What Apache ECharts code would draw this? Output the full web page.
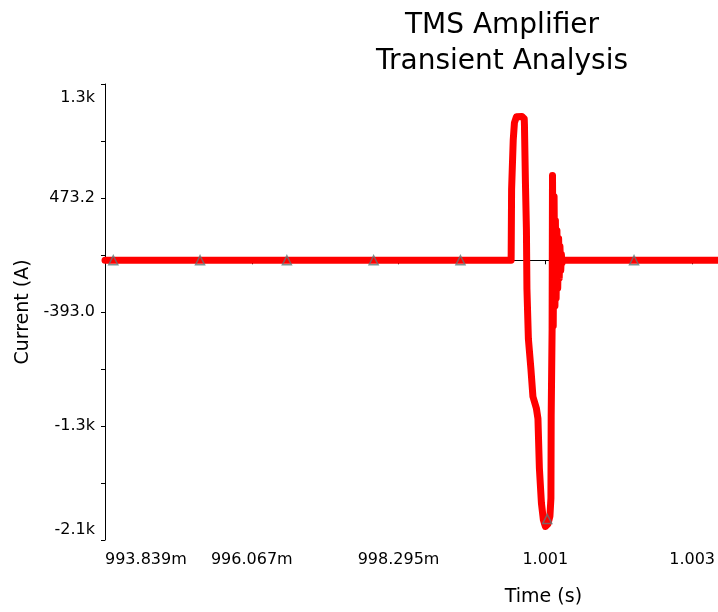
<!DOCTYPE html>
<html>
<head>
<meta charset="utf-8">
<style>
  html, body { margin: 0; padding: 0; background: #ffffff; }
  #chart { width: 718px; height: 612px; }
</style>
<script src="https://cdn.jsdelivr.net/npm/echarts@6/dist/echarts.min.js"></script>
</head>
<body>
<div id="chart"></div>
<script>
// ---- data (time in ms, current in A) ----
const timeMs = [
  993.839, 1000.004, 1000.011, 1000.036, 1000.054, 1000.084, 1000.168, 1000.203,
  1000.206, 1000.221, 1000.236, 1000.244, 1000.266, 1000.304, 1000.335, 1000.388,
  1000.411, 1000.433, 1000.464, 1000.494, 1000.524, 1000.562, 1000.593, 1000.608,
  1000.612, 1000.626, 1000.632, 1000.643, 1000.656, 1000.669, 1000.676, 1000.687,
  1000.699, 1000.711, 1000.725, 1000.734, 1000.745, 1000.757, 1000.767, 1000.775,
  1000.790, 1003.142
];
const currentA = [
  0, 0, 538, 916, 1045, 1090, 1093, 1075,
  1030, 591, 235, -219, -597, -824, -1036, -1127,
  -1203, -1581, -1846, -1974, -2023, -2004, -1944, -1808,
  -1180, -521, 644, -499, 484, -348, 303, -288,
  227, -212, 166, -136, 106, -76, 45, -23,
  0, 0
];
const markerTimeMs = [993.965, 995.282, 996.600, 997.917, 999.235, 1000.552, 1001.870];
const markerCurrentA = [0, 0, 0, 0, 0, -1965, 0];

const xTickValues = [993.839, 996.067, 998.295, 1000.523, 1002.751];
const yTickValues = [-2125.4, -1692.3, -1259.2, -826.1, -393.0, 40.1, 473.2, 906.3, 1339.4];
const yLabelValues = [-2125.4, -1259.2, -393.0, 473.2, 1339.4];
const xMin = 993.839, xMax = 1003.142;
const yMin = -2125.4, yMax = 1339.4;

const FONT = 'DejaVu Sans';

const lineData = timeMs.map((t, i) => [t, currentA[i]]);
const markerData = markerTimeMs.map((t, i) => [t, markerCurrentA[i]]);

function fmtX(v) {
  if (v >= 1000) return (v / 1000).toFixed(3);
  return v.toFixed(3) + 'm';
}
function fmtYPlain(v) {
  if (Math.abs(v) >= 1000) return (v / 1000).toFixed(1) + 'k';
  return v.toFixed(1);
}
function fmtY(v) {
  const s = fmtYPlain(v);
  if (Math.abs(v - yMax) < 1e-6) return '{top|' + s + '}';
  if (Math.abs(v - yMin) < 1e-6) return '{bot|' + s + '}';
  return s;
}

const chart = echarts.init(document.getElementById('chart'), null, { renderer: 'canvas' });
chart.setOption({
  animation: false,
  backgroundColor: '#ffffff',
  title: {
    text: 'TMS Amplifier\nTransient Analysis',
    left: 497,
    top: 3,
    textAlign: 'center',
    textStyle: {
      fontFamily: FONT,
      fontSize: 28,
      fontWeight: 'normal',
      color: '#000000',
      lineHeight: 36
    }
  },
  grid: { left: 105, right: 0, top: 84, bottom: 70, containLabel: false },
  xAxis: {
    type: 'value',
    min: xMin,
    max: xMax,
    name: 'Time (s)',
    nameLocation: 'middle',
    nameGap: 48,
    nameTextStyle: { fontFamily: FONT, fontSize: 19, color: '#000000', padding: [0, 0, 0, 264] },
    axisLine: { show: true, lineStyle: { color: '#000000', width: 1 } },
    axisTick: { show: true, length: 4, customValues: xTickValues, lineStyle: { color: '#000000' } },
    axisLabel: {
      customValues: xTickValues,
      formatter: fmtX,
      showMinLabel: true,
      hideOverlap: false,
      fontFamily: FONT,
      fontSize: 16,
      color: '#000000',
      margin: 12,
      alignMinLabel: 'left'
    },
    splitLine: { show: false }
  },
  yAxis: {
    type: 'value',
    min: yMin,
    max: yMax,
    name: 'Current (A)',
    nameLocation: 'middle',
    nameRotate: 90,
    nameGap: 70,
    nameTextStyle: { fontFamily: FONT, fontSize: 19, color: '#000000' },
    axisLine: { show: true, lineStyle: { color: '#000000', width: 1 } },
    axisTick: { show: true, length: 4, customValues: yTickValues, lineStyle: { color: '#000000' } },
    axisLabel: {
      customValues: yLabelValues,
      formatter: fmtY,
      fontFamily: FONT,
      fontSize: 16,
      color: '#000000',
      margin: 10,
      rich: {
        top: { fontFamily: FONT, fontSize: 16, color: '#000000', padding: [28, 0, 0, 0] },
        bot: { fontFamily: FONT, fontSize: 16, color: '#000000', padding: [0, 0, 20, 0] }
      }
    },
    splitLine: { show: false }
  },
  series: [
    {
      type: 'line',
      data: lineData,
      showSymbol: false,
      symbol: 'none',
      lineStyle: { color: '#ff0000', width: 7, join: 'round', cap: 'round' },
      z: 2
    },
    {
      type: 'scatter',
      data: markerData,
      symbol: 'triangle',
      symbolSize: 9,
      itemStyle: { color: 'rgba(0,0,0,0)', borderColor: '#5f7878', borderWidth: 1.5 },
      z: 3
    }
  ]
});
</script>
</body>
</html>
